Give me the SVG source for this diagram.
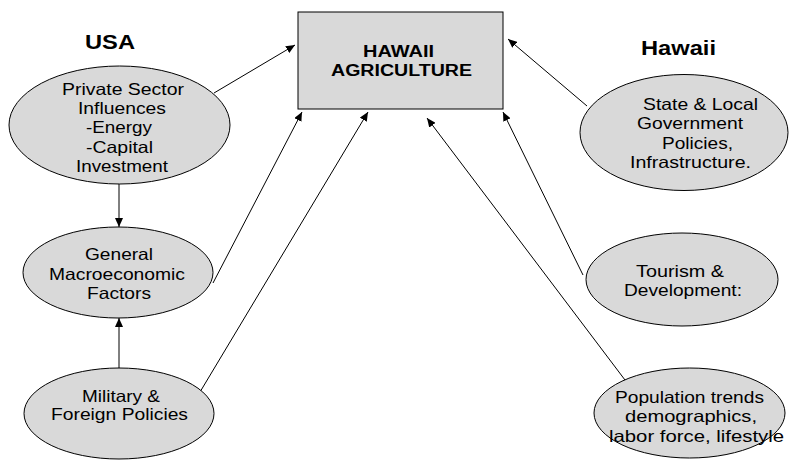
<svg xmlns="http://www.w3.org/2000/svg" width="789" height="461" viewBox="0 0 789 461">
<style>
.node{fill:#d9d9d9;stroke:#000;stroke-width:1}
.t{font-family:"Liberation Sans",Arial,sans-serif;font-size:16.5px;fill:#000}
.b{font-family:"Liberation Sans",Arial,sans-serif;font-weight:bold;fill:#000}
.c{stroke:#000;stroke-width:1;fill:none;marker-end:url(#ah)}
</style>
<defs>
<marker id="ah" markerUnits="userSpaceOnUse" markerWidth="10" markerHeight="8" refX="9" refY="4" orient="auto">
<path d="M0,0 L9,4 L0,8 Z" fill="#000"/>
</marker>
</defs>
<rect width="789" height="461" fill="#fff"/>
<text class="b" x="85" y="49" font-size="20" textLength="50" lengthAdjust="spacingAndGlyphs">USA</text>
<text class="b" x="641" y="55" font-size="20" textLength="75" lengthAdjust="spacingAndGlyphs">Hawaii</text>
<g id="connectors">
<line class="c" x1="214" y1="93" x2="295" y2="45"/>
<line class="c" x1="119" y1="184" x2="119" y2="227"/>
<line class="c" x1="119" y1="368" x2="119" y2="318"/>
<line class="c" x1="213" y1="283" x2="302" y2="112"/>
<line class="c" x1="200" y1="392" x2="368" y2="112"/>
<line class="c" x1="625" y1="380" x2="427" y2="118"/>
<line class="c" x1="583" y1="275" x2="503" y2="112"/>
<line class="c" x1="587" y1="106" x2="508" y2="39"/>
</g>
<g id="hawaii-agriculture">
<rect class="node" x="298" y="12" width="205" height="97"/>
<text class="b" x="363" y="57" font-size="16" textLength="71" lengthAdjust="spacingAndGlyphs">HAWAII</text>
<text class="b" x="331" y="76" font-size="16" textLength="141" lengthAdjust="spacingAndGlyphs">AGRICULTURE</text>
</g>
<g id="private-sector">
<ellipse class="node" cx="119.5" cy="125" rx="110.5" ry="59"/>
<text class="t" x="62" y="95" textLength="122" lengthAdjust="spacingAndGlyphs">Private Sector</text>
<text class="t" x="78" y="114" textLength="88" lengthAdjust="spacingAndGlyphs">Influences</text>
<text class="t" x="86" y="133" textLength="66" lengthAdjust="spacingAndGlyphs">-Energy</text>
<text class="t" x="86" y="153" textLength="67" lengthAdjust="spacingAndGlyphs">-Capital</text>
<text class="t" x="76" y="172" textLength="92" lengthAdjust="spacingAndGlyphs">Investment</text>
</g>
<g id="general-macro">
<ellipse class="node" cx="118" cy="272.5" rx="95" ry="45.5"/>
<text class="t" x="85" y="260" textLength="68" lengthAdjust="spacingAndGlyphs">General</text>
<text class="t" x="49" y="280" textLength="136" lengthAdjust="spacingAndGlyphs">Macroeconomic</text>
<text class="t" x="87" y="299" textLength="64" lengthAdjust="spacingAndGlyphs">Factors</text>
</g>
<g id="military">
<ellipse class="node" cx="119" cy="413.5" rx="95" ry="45.5"/>
<text class="t" x="82" y="402" textLength="78" lengthAdjust="spacingAndGlyphs">Military &amp;</text>
<text class="t" x="51" y="420" textLength="137" lengthAdjust="spacingAndGlyphs">Foreign Policies</text>
</g>
<g id="state-local">
<ellipse class="node" cx="684" cy="132.5" rx="104" ry="58"/>
<text class="t" x="643" y="110" textLength="115" lengthAdjust="spacingAndGlyphs">State &amp; Local</text>
<text class="t" x="637" y="129" textLength="106" lengthAdjust="spacingAndGlyphs">Government</text>
<text class="t" x="662" y="149" textLength="71" lengthAdjust="spacingAndGlyphs">Policies,</text>
<text class="t" x="630" y="168" textLength="121" lengthAdjust="spacingAndGlyphs">Infrastructure.</text>
</g>
<g id="tourism">
<ellipse class="node" cx="682" cy="279.5" rx="96" ry="46.5"/>
<text class="t" x="636" y="277" textLength="88" lengthAdjust="spacingAndGlyphs">Tourism &amp;</text>
<text class="t" x="624" y="296" textLength="118" lengthAdjust="spacingAndGlyphs">Development:</text>
</g>
<g id="population">
<ellipse class="node" cx="689.5" cy="413" rx="95.5" ry="45"/>
<text class="t" x="615" y="403" textLength="149" lengthAdjust="spacingAndGlyphs">Population trends</text>
<text class="t" x="625" y="422" textLength="132" lengthAdjust="spacingAndGlyphs">demographics,</text>
<text class="t" x="609" y="442" textLength="175" lengthAdjust="spacingAndGlyphs">labor force, lifestyle</text>
</g>
</svg>
